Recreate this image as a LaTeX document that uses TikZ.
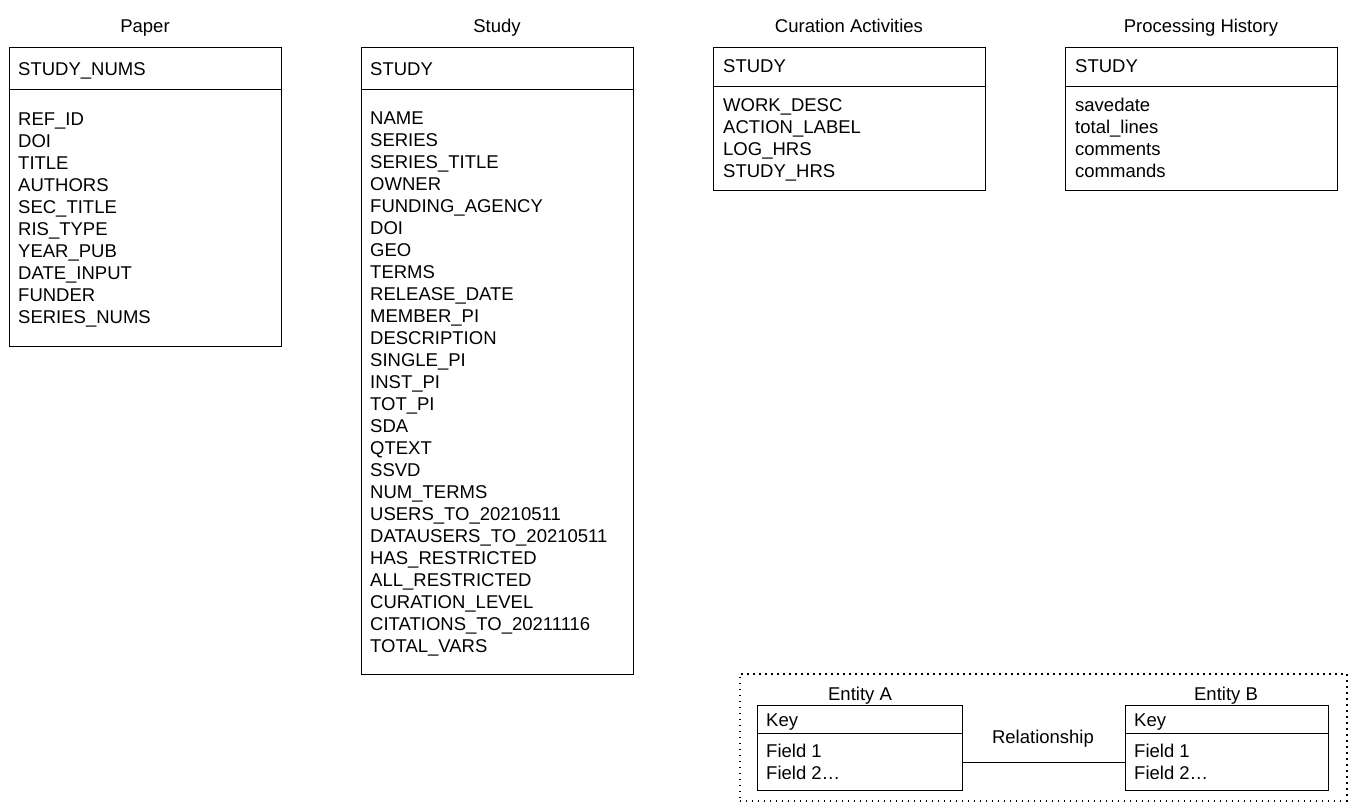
\documentclass[tikz,border=0pt]{standalone}
\usepackage{fontspec}
\setmainfont{Liberation Sans}
\begin{document}
\begin{tikzpicture}[x=1pt,y=-1pt,
  font=\fontsize{18.5}{22}\selectfont,
  cell/.style={draw, line width=1pt, anchor=north west, inner sep=0pt, minimum width=272pt},
  txt/.style={anchor=base west, inner sep=0pt},
  ttl/.style={anchor=base, inner sep=0pt},
  legendframe/.style={draw, line width=1.6pt, dash pattern=on 1.6pt off 4.4pt},
  link/.style={draw, line width=1pt}]
\useasboundingbox (0,0) rectangle (1353,806);

% ---------- Paper ----------
\node[ttl] (paper-title) at (145,32.5) {Paper};
\node[cell, minimum height=42pt] (paper-head) at (9,47) {};
\node[cell, minimum height=257pt] (paper-body) at (9,89) {};
\node[txt] (paper-key) at (18,75.5) {STUDY\_NUMS};
\foreach \f [count=\i] in {REF\_ID,DOI,TITLE,AUTHORS,SEC\_TITLE,RIS\_TYPE,YEAR\_PUB,DATE\_INPUT,FUNDER,SERIES\_NUMS}
  \node[txt] (paper-f\i) at (18,{119+22*(\i-1)+6.5}) {\f};

% ---------- Study ----------
\node[ttl] (study-title) at (497,32.5) {Study};
\node[cell, minimum height=42pt] (study-head) at (361,47) {};
\node[cell, minimum height=585pt] (study-body) at (361,89) {};
\node[txt] (study-key) at (370,75.5) {STUDY};
\foreach \f [count=\i] in {NAME,SERIES,SERIES\_TITLE,OWNER,FUNDING\_AGENCY,DOI,GEO,TERMS,RELEASE\_DATE,MEMBER\_PI,DESCRIPTION,SINGLE\_PI,INST\_PI,TOT\_PI,SDA,QTEXT,SSVD,NUM\_TERMS,USERS\_TO\_20210511,DATAUSERS\_TO\_20210511,HAS\_RESTRICTED,ALL\_RESTRICTED,CURATION\_LEVEL,CITATIONS\_TO\_20211116,TOTAL\_VARS}
  \node[txt] (study-f\i) at (370,{118+22*(\i-1)+6.5}) {\f};

% ---------- Curation Activities ----------
\node[ttl] (cur-title) at (849,32.5) {Curation Activities};
\node[cell, minimum height=39pt] (cur-head) at (713,47) {};
\node[cell, minimum height=104pt] (cur-body) at (713,86) {};
\node[txt] (cur-key) at (723,72.5) {STUDY};
\foreach \f [count=\i] in {WORK\_DESC,ACTION\_LABEL,LOG\_HRS,STUDY\_HRS}
  \node[txt] (cur-f\i) at (723,{105+22*(\i-1)+6.5}) {\f};

% ---------- Processing History ----------
\node[ttl] (proc-title) at (1201,32.5) {Processing History};
\node[cell, minimum height=39pt] (proc-head) at (1065,47) {};
\node[cell, minimum height=104pt] (proc-body) at (1065,86) {};
\node[txt] (proc-key) at (1075,72.5) {STUDY};
\foreach \f [count=\i] in {savedate,total\_lines,comments,commands}
  \node[txt] (proc-f\i) at (1075,{105+22*(\i-1)+6.5}) {\f};

% ---------- Legend ----------
\node[legendframe, anchor=north west, inner sep=0pt, minimum width=607pt, minimum height=127pt] (legend) at (739,673) {};
\node[ttl] (ea-title) at (860,700.5) {Entity A};
\node[cell, minimum width=205pt, minimum height=28pt] (ea-head) at (757,705) {};
\node[cell, minimum width=205pt, minimum height=57pt] (ea-body) at (757,733) {};
\node[txt] (ea-key) at (766,726.5) {Key};
\node[txt] (ea-f1) at (766,757.5) {Field 1};
\node[txt] (ea-f2) at (766,779.5) {Field 2…};

\node[ttl] (eb-title) at (1226,700.5) {Entity B};
\node[cell, minimum width=203pt, minimum height=28pt] (eb-head) at (1125,705) {};
\node[cell, minimum width=203pt, minimum height=57pt] (eb-body) at (1125,733) {};
\node[txt] (eb-key) at (1134,726.5) {Key};
\node[txt] (eb-f1) at (1134,757.5) {Field 1};
\node[txt] (eb-f2) at (1134,779.5) {Field 2…};

\node[ttl] (rel-label) at (1043,743.5) {Relationship};
\draw[link] (ea-body.east) -- (eb-body.west);
\end{tikzpicture}
\end{document}
